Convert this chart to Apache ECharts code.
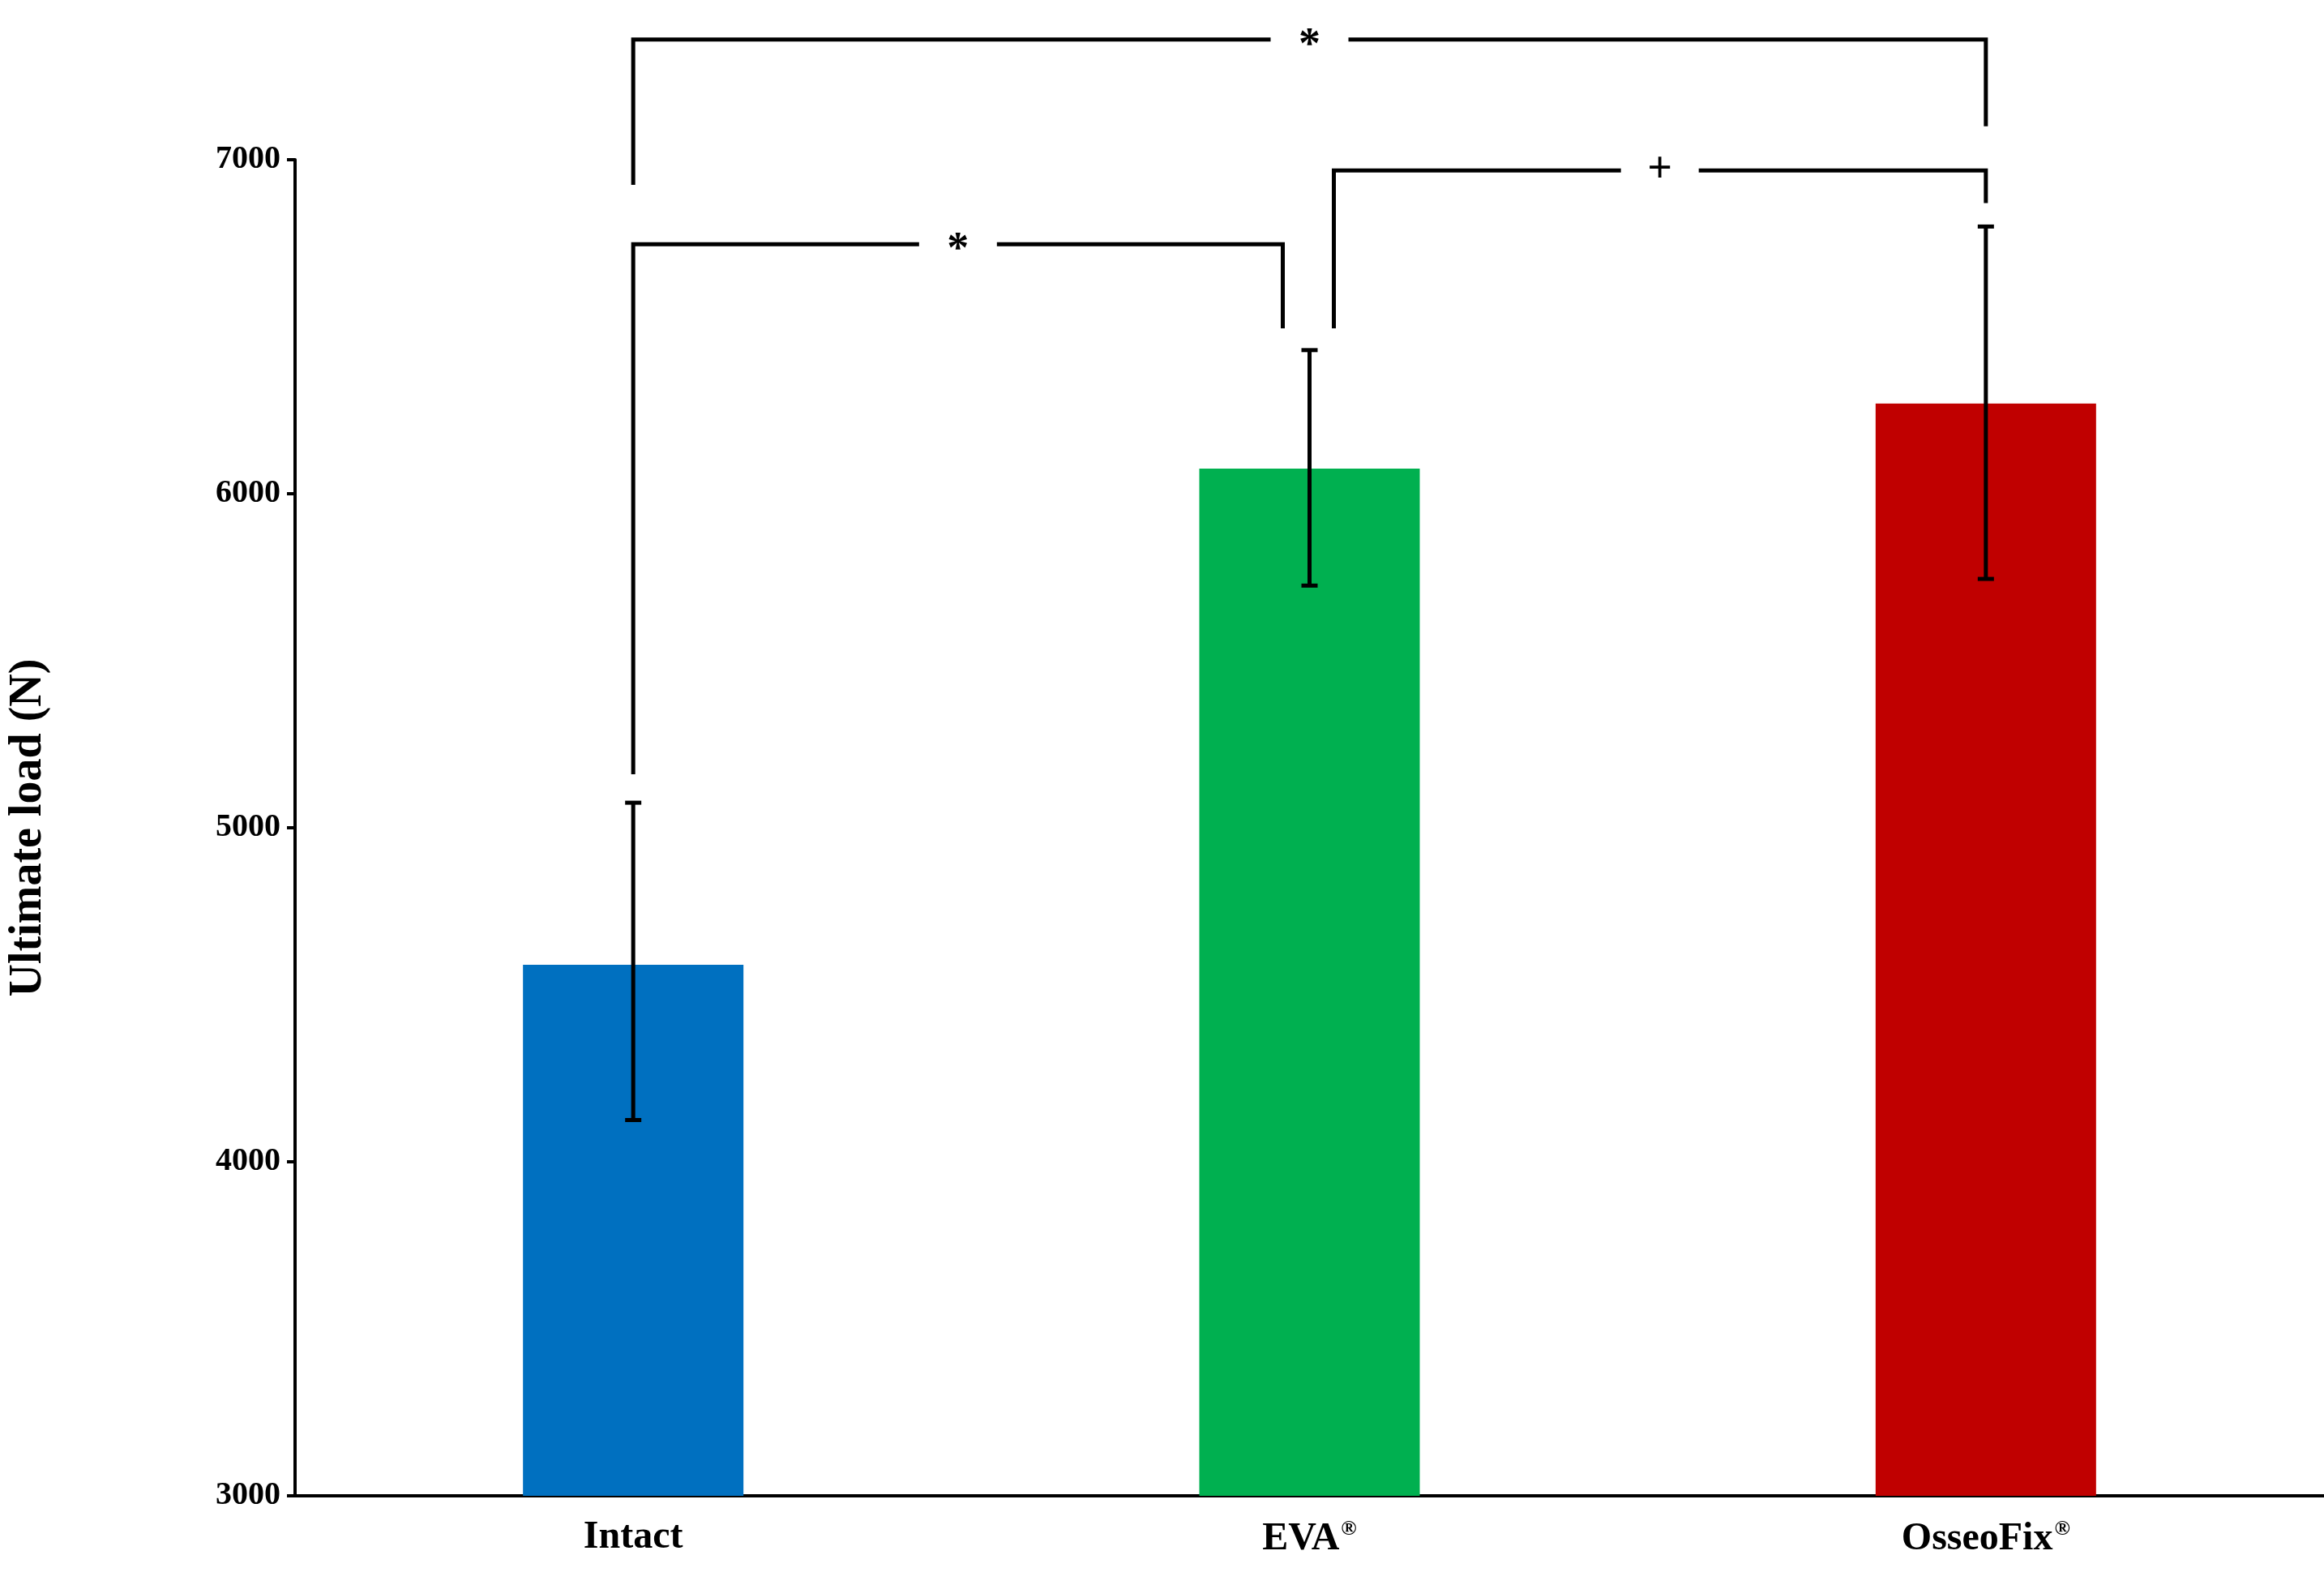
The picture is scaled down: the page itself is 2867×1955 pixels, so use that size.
<!DOCTYPE html>
<html><head><meta charset="utf-8">
<script src="https://cdn.jsdelivr.net/npm/echarts@6/dist/echarts.min.js"></script>
<style>html,body{margin:0;padding:0;background:#fff}#c{width:2867px;height:1955px}</style>
</head><body><div id="c"></div>
<script>
const categories = ['Intact', 'EVA', 'OsseoFix'];
const means = [4590, 6075, 6270];
const errLow = [4125, 5725, 5745];
const errHigh = [5075, 6430, 6800];
const barColors = ['#0070C0', '#00B050', '#C00000'];
const yTicks = [3000, 4000, 5000, 6000, 7000];
// significance brackets: from/to category, bar y, leg-bottom y values, label
const brackets = [
  {from: 0, to: 2, top: 7360, leftEnd: 6925, rightEnd: 7100, label: '*', fromOff: 0, toOff: 0},
  {from: 1, to: 2, top: 6968, leftEnd: 6495, rightEnd: 6870, label: '+', fromOff: 30, toOff: 0},
  {from: 0, to: 1, top: 6747, leftEnd: 5160, rightEnd: 6495, label: '*', fromOff: 0, toOff: -33}
];
const FONT = '"Liberation Serif", "Times New Roman", serif';
const chart = echarts.init(document.getElementById('c'));
chart.setOption({
  animation: false,
  backgroundColor: '#fff',
  grid: {left: 364, right: -97, top: 197, bottom: 110},
  xAxis: {
    type: 'category', data: categories,
    axisLine: {lineStyle: {color: '#000', width: 4}},
    axisTick: {show: false},
    axisLabel: {
      margin: 28, color: '#000',
      formatter: v => v === 'Intact' ? '{b|' + v + '}' : '{b|' + v + '}{s|®}',
      rich: {
        b: {fontFamily: FONT, fontWeight: 'bold', fontSize: 48, color: '#000'},
        s: {fontFamily: FONT, fontWeight: 'bold', fontSize: 26, color: '#000', verticalAlign: 'top', padding: [0, 0, 26, 2]}
      }
    }
  },
  yAxis: {
    type: 'value', min: 3000, max: 7000, interval: 1000,
    name: 'Ultimate load (N)', nameLocation: 'middle', nameGap: 300, nameRotate: 90,
    nameTextStyle: {fontFamily: FONT, fontWeight: 'bold', fontSize: 56, color: '#000'},
    axisLine: {show: true, lineStyle: {color: '#000', width: 4}},
    axisTick: {show: true, inside: false, length: 10, lineStyle: {color: '#000', width: 4}},
    splitLine: {show: false},
    axisLabel: {fontFamily: FONT, fontWeight: 'bold', fontSize: 40, color: '#000', margin: 18,
      formatter: v => yTicks.includes(v) ? String(v) : ''}
  },
  series: [
    {
      type: 'bar', barWidth: 272,
      data: means.map((v, i) => ({value: v, itemStyle: {color: barColors[i]}}))
    },
    {
      type: 'custom', clip: false, z: 5,
      data: categories.map((c, i) => [i, errLow[i], errHigh[i]]),
      renderItem: (params, api) => {
        const lo = api.coord([api.value(0), api.value(1)]);
        const hi = api.coord([api.value(0), api.value(2)]);
        const w = 10, st = {stroke: '#000', lineWidth: 5};
        return {type: 'group', children: [
          {type: 'line', shape: {x1: lo[0], y1: lo[1], x2: hi[0], y2: hi[1]}, style: st},
          {type: 'line', shape: {x1: lo[0]-w, y1: lo[1], x2: lo[0]+w, y2: lo[1]}, style: st},
          {type: 'line', shape: {x1: hi[0]-w, y1: hi[1], x2: hi[0]+w, y2: hi[1]}, style: st}
        ]};
      }
    },
    {
      type: 'custom', clip: false, z: 6,
      data: brackets.map((b, i) => [b.from, b.to, b.top, b.leftEnd, b.rightEnd, i]),
      renderItem: (params, api) => {
        const b = brackets[api.value(5)];
        const a = api.coord([b.from, b.top]);
        const c = api.coord([b.to, b.top]);
        const x1 = a[0] + b.fromOff, x2 = c[0] + b.toOff, y = a[1];
        const yl = api.coord([b.from, b.leftEnd])[1];
        const yr = api.coord([b.to, b.rightEnd])[1];
        const mid = (x1 + x2) / 2, gap = 48;
        const st = {stroke: '#000', lineWidth: 5, fill: null};
        return {type: 'group', children: [
          {type: 'polyline', shape: {points: [[x1, yl], [x1, y], [mid - gap, y]]}, style: st},
          {type: 'polyline', shape: {points: [[mid + gap, y], [x2, y], [x2, yr]]}, style: st},
          {type: 'text', x: mid, y: y + (b.label === '*' ? 8 : 0), style: {text: b.label, fontFamily: FONT, fontWeight: 'bold',
            fontSize: 54, fill: '#000', align: 'center', verticalAlign: 'middle'}}
        ]};
      }
    }
  ]
});
</script></body></html>
